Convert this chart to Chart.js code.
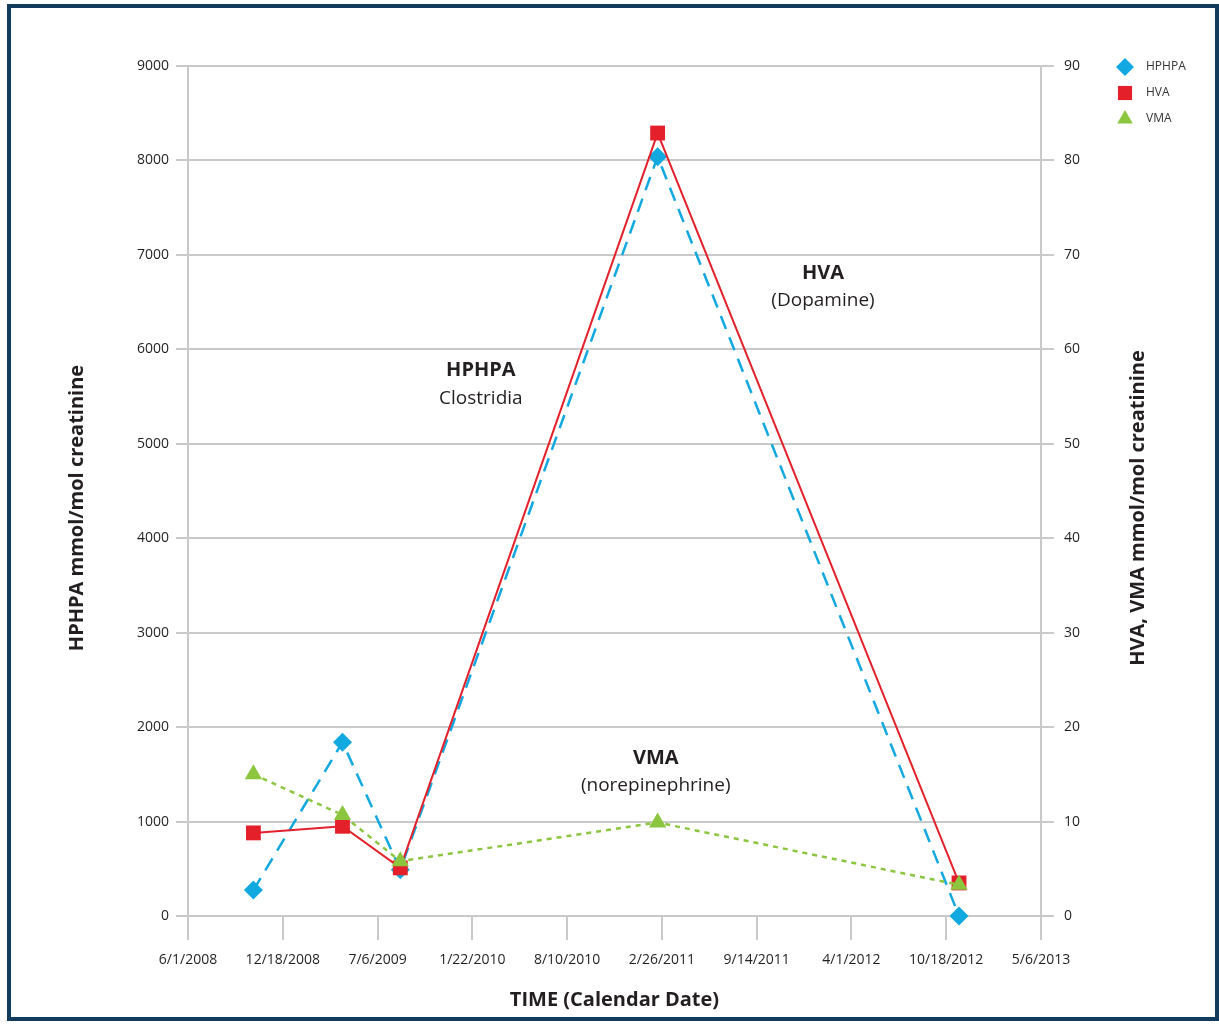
<!DOCTYPE html>
<html>
<head>
<meta charset="utf-8">
<title>HPHPA, HVA, VMA over time</title>
<script src="https://cdn.jsdelivr.net/npm/chart.js@4.4.1/dist/chart.umd.min.js"></script>
<style>
  html, body { margin: 0; padding: 0; background: #fff; }
  #wrap { position: relative; width: 1219px; height: 1024px; }
  #frame {
    position: absolute; left: 7px; top: 4px; width: 1212px; height: 1017px;
    border: 4px solid #123b5c; box-sizing: border-box; pointer-events: none;
  }
</style>
</head>
<body>
<div id="wrap">
  <canvas id="chart" width="1219" height="1024"></canvas>
  <div id="frame"></div>
</div>
<script>
// x tick labels (every 200 days)
const xTickLabels = ["6/1/2008", "12/18/2008", "7/6/2009", "1/22/2010", "8/10/2010",
  "2/26/2011", "9/14/2011", "4/1/2012", "10/18/2012", "5/6/2013"];

// sample dates
const sampleDates = ["10/17/2008", "4/23/2009", "8/23/2009", "2/17/2011", "11/14/2012"];

// left axis
const hphpa = [275, 1840, 490, 8040, 0];
// right axis
const hva = [8.8, 9.5, 5.1, 82.9, 3.5];
const vma = [15.0, 10.7, 5.8, 9.9, 3.3];

const seriesNames = ["HPHPA", "HVA", "VMA"];
const colors = { HPHPA: "#12a8e0", HVA: "#e4202a", VMA: "#8cc63f" };

const leftTitle = "HPHPA mmol/mol creatinine";
const rightTitle = "HVA, VMA mmol/mol creatinine";

const FONT = "'Open Sans', 'Noto Sans', sans-serif";
const TEXT = "#231f20";
const GRID = "#c9c9c9";

function toDays(s) {
  const [m, d, y] = s.split("/").map(Number);
  return (Date.UTC(y, m - 1, d) - Date.UTC(2008, 5, 1)) / 86400000;
}

function points(values) {
  return sampleDates.map((d, i) => ({ x: toDays(d), y: values[i] }));
}

// text notes on the plot: [bold, normal, day, HPHPA value]
const notes = [
  ["HPHPA", "Clostridia", 618, 5780],
  ["HVA", "(Dopamine)", 1340, 6810],
  ["VMA", "(norepinephrine)", 987, 1675],
];

const notesAndLegend = {
  id: "notesAndLegend",
  afterDatasetsDraw(chart) {
    const ctx = chart.ctx;
    const xs = chart.scales.x;
    const ys = chart.scales.y;
    const area = chart.chartArea;
    ctx.save();
    ctx.fillStyle = TEXT;
    ctx.textAlign = "center";
    ctx.textBaseline = "middle";
    notes.forEach(([b, n, day, v]) => {
      const px = xs.getPixelForValue(day);
      const py = ys.getPixelForValue(v);
      ctx.font = "bold 20px " + FONT;
      ctx.fillText(b, px, py);
      ctx.font = "19px " + FONT;
      ctx.fillText(n, px, py + 28);
    });

    // y axis titles, both reading upwards
    const midY = (area.top + area.bottom) / 2 + 17;
    ctx.font = "bold 20px " + FONT;
    [[leftTitle, 77], [rightTitle, 1138]].forEach(([t, x]) => {
      ctx.save();
      ctx.translate(x, midY);
      ctx.rotate(-Math.PI / 2);
      ctx.fillText(t, 0, 0);
      ctx.restore();
    });

    // legend
    const styles = { HPHPA: ["rectRot", 9], HVA: ["rect", 10], VMA: ["triangle", 9] };
    seriesNames.forEach((name, i) => {
      const y = 67 + i * 26;
      ctx.fillStyle = colors[name];
      ctx.strokeStyle = colors[name];
      Chart.helpers.drawPoint(ctx, {
        pointStyle: styles[name][0], radius: styles[name][1], borderWidth: 0, rotation: 0
      }, 1125, y);
      ctx.fillStyle = "#333";
      ctx.font = "12px " + FONT;
      ctx.textAlign = "left";
      ctx.fillText(name, 1146, y);
    });
    ctx.restore();
  }
};

new Chart(document.getElementById("chart"), {
  type: "line",
  data: {
    datasets: [
      {
        label: "HPHPA",
        data: points(hphpa),
        yAxisID: "y",
        borderColor: colors.HPHPA,
        backgroundColor: colors.HPHPA,
        borderWidth: 2.5,
        borderDash: [14, 9],
        pointStyle: "rectRot",
        pointRadius: 9.5,
        pointBorderWidth: 0,
        order: 3,
        clip: false,
      },
      {
        label: "HVA",
        data: points(hva),
        yAxisID: "y2",
        borderColor: colors.HVA,
        backgroundColor: colors.HVA,
        borderWidth: 2,
        pointStyle: "rect",
        pointRadius: 10.5,
        pointBorderWidth: 0,
        order: 2,
        clip: false,
      },
      {
        label: "VMA",
        data: points(vma),
        yAxisID: "y2",
        borderColor: colors.VMA,
        backgroundColor: colors.VMA,
        borderWidth: 2.5,
        borderDash: [5, 5],
        pointStyle: "triangle",
        pointRadius: 10,
        pointBorderWidth: 0,
        order: 1,
        clip: false,
      },
    ],
  },
  options: {
    responsive: false,
    animation: false,
    layout: { padding: { top: 66, left: 0, right: 0, bottom: 0 } },
    elements: { line: { tension: 0 } },
    plugins: { legend: { display: false }, tooltip: { enabled: false } },
    scales: {
      x: {
        type: "linear",
        position: "bottom",
        min: toDays(xTickLabels[0]),
        max: toDays(xTickLabels[xTickLabels.length - 1]),
        afterBuildTicks: (scale) => {
          scale.ticks = xTickLabels.map((l) => ({ value: toDays(l) }));
        },
        afterFit: (scale) => { scale.height = 108; },
        grid: { drawOnChartArea: false, color: GRID, lineWidth: 2, tickLength: 24 },
        border: { display: true, color: GRID, width: 2 },
        ticks: {
          color: TEXT,
          font: { family: FONT, size: 14 },
          padding: 12,
          maxRotation: 0,
          autoSkip: false,
          callback: (v) => xTickLabels.find((l) => toDays(l) === v) || "",
        },
        title: {
          display: true,
          text: "TIME (Calendar Date)",
          color: TEXT,
          font: { family: FONT, size: 20, weight: "bold" },
          padding: { top: 0, bottom: 12 },
        },
      },
      y: {
        position: "left",
        min: 0,
        max: 9000,
        afterFit: (scale) => { scale.width = 188; },
        grid: { color: GRID, lineWidth: 2, tickLength: 12 },
        border: { display: true, color: GRID, width: 2 },
        ticks: {
          stepSize: 1000, color: TEXT, font: { family: FONT, size: 14 }, padding: 7,
          callback: (v) => String(v),
        },
      },
      y2: {
        position: "right",
        min: 0,
        max: 90,
        afterFit: (scale) => { scale.width = 178; },
        grid: { drawOnChartArea: false, color: GRID, lineWidth: 2, tickLength: 13 },
        border: { display: true, color: GRID, width: 2 },
        ticks: {
          stepSize: 10, color: TEXT, font: { family: FONT, size: 14 }, padding: 10,
          callback: (v) => String(v),
        },
      },
    },
  },
  plugins: [notesAndLegend],
});
</script>
</body>
</html>
